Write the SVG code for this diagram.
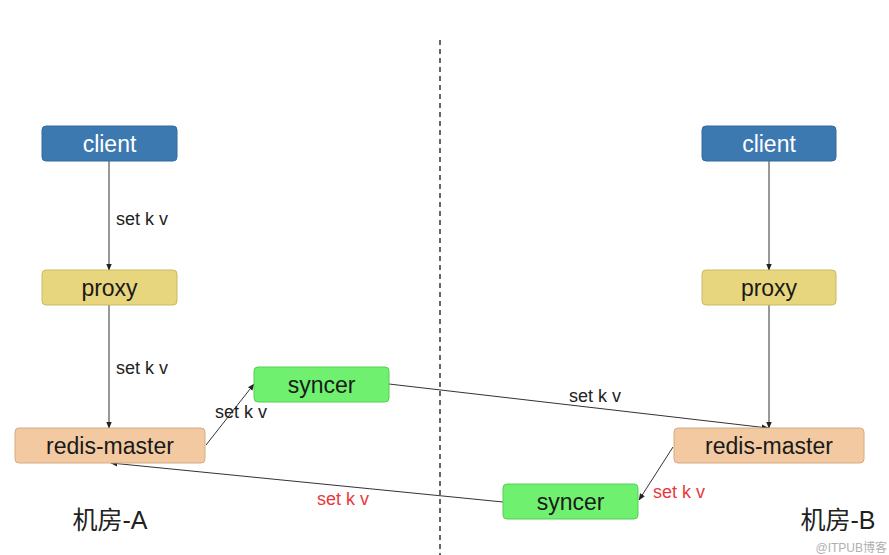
<svg xmlns="http://www.w3.org/2000/svg" width="889" height="555" viewBox="0 0 889 555">
<style>
text{font-family:"Liberation Sans","Noto Sans CJK SC",sans-serif}
.n{font-size:23px;text-anchor:middle;fill:#1a1a1a}
.cl rect{fill:#3d79b1;stroke:#346a9c}
.cl text{fill:#ffffff}
.px rect{fill:#e8d67e;stroke:#c9b865}
.rm rect{fill:#f2c9a1;stroke:#d6ab84}
.sy rect{fill:#6ff06f;stroke:#57cf57}
.lb{font-size:18px;fill:#222}
.red{font-size:18px;fill:#e8383b}
.e{stroke:#333;stroke-width:1;fill:none;marker-end:url(#a)}
.room{font-size:25px;fill:#222;text-anchor:middle}
</style>
<defs>
<marker id="a" viewBox="0 0 10 10" refX="9" refY="5" markerWidth="7" markerHeight="7" orient="auto-start-reverse" markerUnits="userSpaceOnUse">
<path d="M0,1 L10,5 L0,9 z" fill="#222"/>
</marker>
</defs>
<rect width="889" height="555" fill="#fff"/>
<line x1="440" y1="40" x2="440" y2="555" stroke="#333" stroke-width="1.5" stroke-dasharray="5,4"/>
<g id="connectors">
<line class="e" x1="109" y1="161" x2="109" y2="270"/>
<line class="e" x1="109" y1="305" x2="109" y2="428"/>
<line class="e" x1="206" y1="445" x2="254" y2="384"/>
<line class="e" x1="389" y1="384" x2="768" y2="428"/>
<line class="e" x1="769" y1="161" x2="769" y2="270"/>
<line class="e" x1="769" y1="305" x2="769" y2="428"/>
<line class="e" x1="673" y1="447" x2="639" y2="500"/>
<line class="e" x1="503" y1="502" x2="111" y2="463"/>
<text class="lb" x="116" y="225">set k v</text>
<text class="lb" x="116" y="374">set k v</text>
<text class="lb" x="215" y="418">set k v</text>
<text class="lb" x="569" y="402">set k v</text>
<text class="red" x="317" y="505">set k v</text>
<text class="red" x="653" y="498">set k v</text>
</g>
<g id="client-a" class="cl"><rect x="42" y="126" width="135" height="35" rx="4"/><text class="n" x="109.5" y="152">client</text></g>
<g id="proxy-a" class="px"><rect x="42" y="270" width="135" height="35" rx="4"/><text class="n" x="109.5" y="296">proxy</text></g>
<g id="redis-master-a" class="rm"><rect x="15" y="428" width="190" height="35" rx="4"/><text class="n" x="110" y="454">redis-master</text></g>
<g id="syncer-a" class="sy"><rect x="254" y="367" width="135" height="35" rx="4"/><text class="n" x="321.5" y="393">syncer</text></g>
<g id="client-b" class="cl"><rect x="702" y="126" width="134" height="35" rx="4"/><text class="n" x="769" y="152">client</text></g>
<g id="proxy-b" class="px"><rect x="702" y="270" width="134" height="35" rx="4"/><text class="n" x="769" y="296">proxy</text></g>
<g id="redis-master-b" class="rm"><rect x="674" y="428" width="190" height="35" rx="4"/><text class="n" x="769" y="454">redis-master</text></g>
<g id="syncer-b" class="sy"><rect x="503" y="484" width="135" height="35" rx="4"/><text class="n" x="570.5" y="510">syncer</text></g>
<text class="room" x="110" y="529">机房-A</text>
<text class="room" x="838" y="529">机房-B</text>
<text x="887" y="552" font-size="12" fill="#b0b0b0" text-anchor="end">@ITPUB博客</text>
</svg>
